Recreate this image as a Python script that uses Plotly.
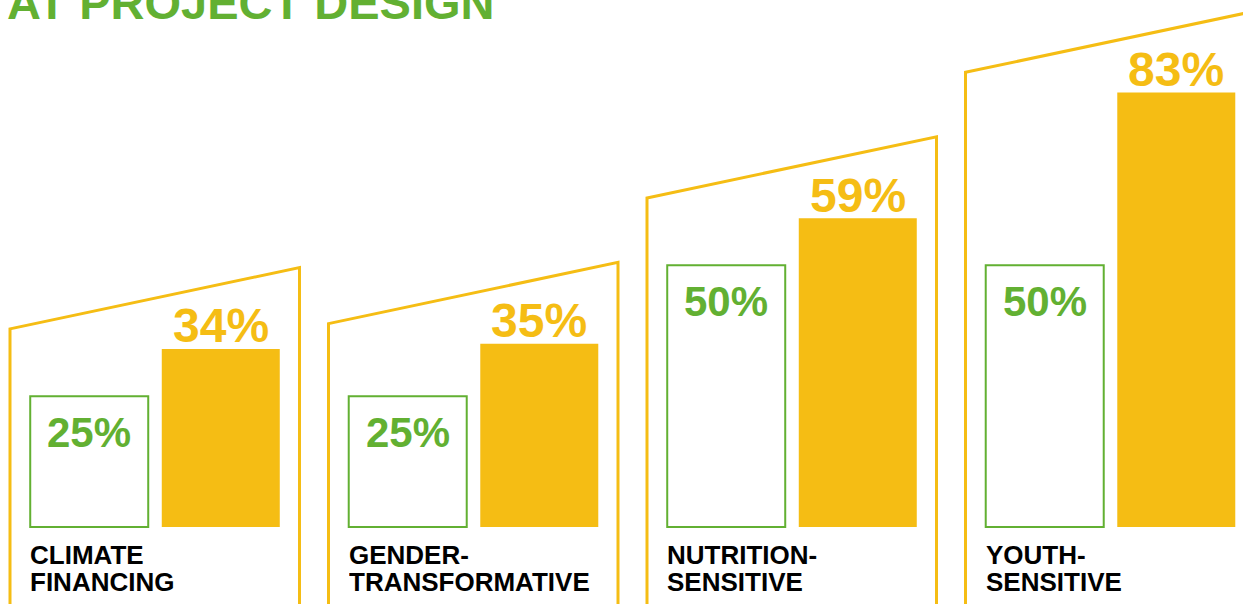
import plotly.graph_objects as go

# ---- data ----
categories = ["CLIMATE\nFINANCING", "GENDER-\nTRANSFORMATIVE", "NUTRITION-\nSENSITIVE", "YOUTH-\nSENSITIVE"]
target_values = [25, 25, 50, 50]      # outlined green bars
actual_values = [34, 35, 59, 83]      # filled yellow bars
title_text = "AT PROJECT DESIGN"

# ---- style ----
GREEN = "#62b032"
YELLOW = "#f5bd14"
FONT = "Liberation Sans"

W, H = 1243, 604
PX_PER_PCT = 5.235
BASE_PX = 527
GROUP_PX = 318.5
FIRST_MID_PX = 155

y_range = [-(H - BASE_PX) / PX_PER_PCT, BASE_PX / PX_PER_PCT]
x_range = [-FIRST_MID_PX / GROUP_PX, (W - FIRST_MID_PX) / GROUP_PX]
xs = list(range(len(categories)))

BAR_OFF = 65.75 / GROUP_PX          # bar centre offset from group centre
HOUSE_L = -145 / GROUP_PX
HOUSE_R = 144.5 / GROUP_PX
LABEL_L = -126 / GROUP_PX

fig = go.Figure()
fig.add_trace(go.Bar(x=xs, y=target_values, name="Target",
                     marker=dict(color="white", line=dict(color=GREEN, width=2)),
                     hoverinfo="skip"))
fig.add_trace(go.Bar(x=xs, y=actual_values, name="Actual",
                     marker=dict(color=YELLOW, line=dict(width=0)),
                     hoverinfo="skip"))

shapes = []
annotations = []
bottom = y_range[0] - 5
for i, (cat, t, a) in enumerate(zip(categories, target_values, actual_values)):
    lt = a + 3.85
    rt = lt + 11.7
    xl, xr = i + HOUSE_L, i + HOUSE_R
    shapes.append(dict(type="path", xref="x", yref="y",
                       path=f"M {xl},{bottom} L {xl},{lt} L {xr},{rt} L {xr},{bottom}",
                       line=dict(color=YELLOW, width=3), layer="below"))
    annotations.append(dict(x=i + BAR_OFF, y=a + 4.4, xref="x", yref="y",
                            text=f"{a}%", showarrow=False, yanchor="middle",
                            font=dict(family=FONT, size=48, color=YELLOW, weight="bold")))
    annotations.append(dict(x=i - BAR_OFF, y=t - 6.9, xref="x", yref="y",
                            text=f"{t}%", showarrow=False, yanchor="middle",
                            font=dict(family=FONT, size=42, color=GREEN, weight="bold")))
    for k, line in enumerate(cat.split("\n")):
        annotations.append(dict(x=i + LABEL_L, y=-5.44 - 5.16 * k, xref="x", yref="y",
                                text=line, showarrow=False, xanchor="left", yanchor="middle",
                                height=24, valign="middle", borderpad=0,
                                font=dict(family=FONT, size=26, color="black", weight="bold")))

annotations.append(dict(x=5 / W, y=1 - 2.5 / H, xref="paper", yref="paper",
                        text=title_text, showarrow=False, xanchor="left", yanchor="middle",
                        font=dict(family=FONT, size=47, color=GREEN, weight="bold")))

fig.update_layout(
    width=W, height=H,
    margin=dict(l=0, r=0, t=0, b=0),
    barmode="group", bargap=0.174, bargroupgap=0.103,
    showlegend=False,
    plot_bgcolor="white", paper_bgcolor="white",
    xaxis=dict(visible=False, range=x_range, fixedrange=True),
    yaxis=dict(visible=False, range=y_range, fixedrange=True),
    shapes=shapes, annotations=annotations,
)

fig.write_html("out.html", config={"displayModeBar": False})
